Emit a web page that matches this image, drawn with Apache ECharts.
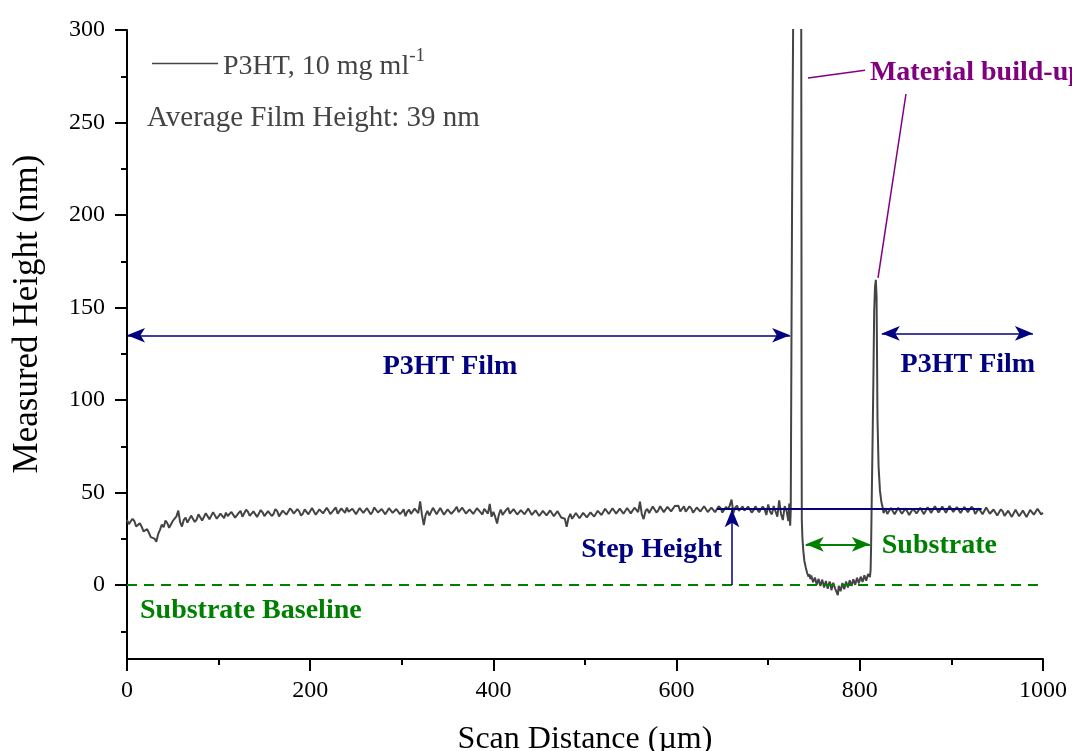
<!DOCTYPE html>
<html lang="en">
<head>
    <meta charset="UTF-8">
    <title>P3HT step height profile</title>
    <script src="https://cdn.jsdelivr.net/npm/echarts@6/dist/echarts.min.js"></script>
    <style>
        html, body { margin: 0; padding: 0; background: #fff; }
        #main { width: 1072px; height: 751px; }
    </style>
</head>
<body>
<div id="main"></div>
<script>
    // film left of the scratch, one reading every 2 um from x = 0
    var film1Start = 0, film1Step = 2;
    var film1Height = [
        35.2, 32.9, 33.8, 35.8, 34.6, 31.6, 32.1, 33.4, 31.5, 29.0, 29.4, 30.2, 28.1, 25.9, 25.6, 25.1, 23.4, 27.5, 29.8, 32.6,
        31.2, 34.8, 33.5, 30.9, 30.8, 34.6, 35.9, 37.1, 40.2, 34.0, 31.6, 35.2, 36.4, 33.7, 34.2, 37.5, 37.8, 34.1, 35.3, 38.2,
        37.6, 34.9, 35.4, 38.8, 38.3, 35.5, 36.2, 39.4, 38.9, 35.8, 36.7, 38.6, 37.4, 36.1, 39.1, 37.3, 36.5, 39.5, 38.6, 36.4,
        37.2, 39.0, 40.1, 36.9, 37.8, 40.7, 39.6, 37.4, 38.1, 39.8, 40.4, 36.8, 37.5, 40.5, 39.3, 37.2, 38.0, 39.9, 40.6, 37.3,
        38.4, 41.0, 39.9, 37.1, 37.6, 40.2, 41.2, 38.0, 38.5, 41.4, 40.3, 38.6, 37.9, 41.0, 39.8, 37.5, 38.6, 40.9, 40.7, 38.2,
        39.1, 41.6, 40.8, 38.0, 38.2, 40.9, 41.5, 38.7, 39.4, 41.7, 40.2, 38.3, 38.7, 40.8, 41.9, 38.6, 39.3, 41.4, 40.5, 39.0,
        41.8, 39.6, 38.9, 41.2, 40.6, 38.3, 39.2, 41.6, 41.3, 39.0, 38.4, 41.5, 40.9, 38.2, 39.5, 41.9, 41.6, 39.2, 38.8, 41.1,
        40.3, 38.2, 39.0, 41.5, 41.2, 39.0, 38.1, 41.1, 40.5, 38.3, 39.4, 40.9, 37.2, 39.6, 40.8, 38.4, 39.1, 41.3, 40.6, 38.9,
        45.2, 38.0, 32.4, 37.9, 40.1, 37.6, 38.6, 41.7, 41.4, 38.2, 39.0, 41.6, 40.7, 38.0, 38.3, 40.9, 41.1, 38.5, 39.6, 40.8,
        42.3, 39.4, 38.5, 41.8, 40.9, 38.6, 37.8, 40.9, 41.6, 38.4, 39.2, 41.5, 42.0, 39.3, 38.1, 41.2, 40.4, 38.6, 43.8, 36.9,
        39.5, 36.8, 33.2, 38.1, 40.8, 37.9, 38.4, 40.6, 41.7, 38.6, 38.9, 41.0, 40.2, 38.1, 37.6, 40.5, 41.3, 38.2, 39.0, 41.3,
        40.6, 37.9, 38.2, 40.4, 39.9, 37.3, 37.5, 40.1, 40.8, 37.6, 38.0, 40.3, 39.4, 37.2, 36.8, 39.9, 39.7, 36.5, 37.1, 35.8,
        31.5, 36.3, 38.4, 35.8, 36.2, 38.9, 39.0, 36.1, 36.9, 39.0, 38.2, 36.6, 37.4, 39.2, 39.1, 37.0, 38.0, 40.1, 39.6, 37.8,
        38.7, 41.2, 40.5, 38.4, 39.2, 41.5, 41.1, 38.6, 38.8, 41.3, 40.6, 38.5, 39.5, 41.6, 41.4, 38.7, 39.1, 41.8, 40.9, 39.4,
        45.0, 38.3, 35.6, 39.9, 41.2, 38.9, 39.8, 42.4, 42.1, 39.2, 40.3, 42.6, 41.7, 39.4, 39.6, 42.2, 42.4, 39.8, 40.5, 42.7,
        41.9, 42.8, 39.7, 40.0, 42.6, 39.6, 40.2, 42.5, 41.4, 39.1, 39.3, 41.9, 42.8, 39.7, 40.6, 42.6, 41.1, 39.4, 39.9, 41.8,
        42.7, 39.4, 40.1, 42.6, 41.5, 39.2, 39.6, 42.3, 40.8, 42.9, 46.2, 38.8, 41.8, 42.9, 40.0, 39.4, 42.5, 40.2, 39.8, 42.4,
        41.6, 39.2, 40.3, 42.5, 42.2, 39.3, 39.7, 42.4, 41.0, 37.8, 43.5, 39.6, 38.2, 42.7, 41.9, 36.9, 45.8, 38.4, 35.1, 42.6,
        40.2
    ];

    // left edge of the scratch with the first build-up wall
    var edgeX = [722, 723, 724, 724.6, 725.3, 726, 726.8, 727.6, 729, 731, 733, 735, 736, 736.3, 736.5,
        736.7, 737.3, 738.3, 739.5, 741, 742.5, 744];
    var edgeHeight = [34.5, 44.0, 32.0, 40, 120, 200, 270, 330, 480, 560, 530, 420, 330, 200, 80,
        35, 26, 18.6, 13, 9.5, 6.5, 4.5];

    // bare substrate at the bottom of the scratch, every 1 um from x = 745
    var substrateStart = 745, substrateStep = 1;
    var substrateHeight = [
        5.8, 3.2, 5.1, 4.1, 1.5, 1.8, 4.0, 3.0, 0.2, 0.9,
        3.3, 2.6, -0.5, 0.4, 2.9, 2.1, -1.4, -0.8, 2.2, 1.5,
        -2.0, -1.2, 1.9, 0.6, -2.8, -2.0, 1.2, 0.3, -1.8, -3.1,
        -4.2, -5.5, -0.4, -1.0, -3.4, -2.6, 1.1, 0.4, -2.3, -1.5,
        1.9, 1.2, -1.3, -0.6, 2.6, 1.8, -0.5, 0.2, 3.1, 2.4,
        0.1, 1.0, 3.9, 3.1, 0.9, 1.9, 4.5, 3.6, 1.6, 2.5,
        5.2, 4.4, 2.3, 3.2, 6.0, 5.1, 4.3
    ];

    // second build-up peak on the right edge
    var peakX = [811.8, 812.3, 813, 814, 814.8, 815.7, 816.6, 817.5, 818.3, 818.8, 819.3, 820.5, 822, 823.5, 824.5];
    var peakHeight = [8, 20, 45, 80, 110, 148, 161, 165, 156, 125, 90, 64, 51, 45, 43];

    // film right of the scratch, every 2 um from x = 826
    var film2Start = 826, film2Step = 2;
    var film2Height = [
        38.9, 41.5, 38.4, 39.2, 41.6, 40.8, 38.2, 38.6, 41.7, 41.2, 38.5, 39.0, 41.4, 40.5, 37.9, 38.3, 41.2, 41.0, 38.7, 39.4,
        41.8, 40.9, 38.3, 38.8, 42.0, 41.6, 39.0, 39.7, 42.6, 42.3, 39.2, 39.5, 42.4, 41.8, 39.1, 40.0, 42.7, 42.4, 39.5, 39.3,
        42.1, 41.5, 38.9, 39.8, 42.2, 42.0, 39.4, 40.1, 42.3, 41.2, 38.4, 38.7, 41.4, 40.6, 38.2, 39.1, 41.9, 41.3, 38.5, 37.9,
        40.8, 40.2, 37.6, 38.3, 40.9, 39.8, 37.4, 36.9, 40.2, 39.5, 36.8, 37.6, 40.7, 40.1, 37.2, 36.8, 40.3, 39.4, 36.7, 37.2,
        40.6, 41.0, 38.0, 38.1, 41.2, 40.3, 38.2, 39.0
    ];

    var xTicks = [0, 200, 400, 600, 800, 1000];
    var yMajorTicks = [0, 50, 100, 150, 200, 250, 300];
    var yMinorTicks = [-25, 25, 75, 125, 175, 225, 275];

    var profile = [];
    film1Height.forEach(function (h, i) { profile.push([film1Start + i * film1Step, h]); });
    edgeX.forEach(function (x, i) { profile.push([x, edgeHeight[i]]); });
    substrateHeight.forEach(function (h, i) { profile.push([substrateStart + i * substrateStep, h]); });
    peakX.forEach(function (x, i) { profile.push([x, peakHeight[i]]); });
    film2Height.forEach(function (h, i) { profile.push([film2Start + i * film2Step, h]); });

    var serif = 'Liberation Serif';
    var navy = '#000080', green = '#008000', purple = '#800080';

    function arrowLine(a, b, color, startArrow, endArrow, width) {
        return [
            {coord: a, symbol: startArrow ? 'arrow' : 'none', symbolSize: [11, 18]},
            {coord: b, symbol: endArrow ? 'arrow' : 'none', symbolSize: [11, 18],
                lineStyle: {color: color, width: width || 1.5, type: 'solid'}}
        ];
    }

    function note(text, coord, color, align) {
        return {
            name: text, coord: coord,
            label: {
                show: true, formatter: '{b}', position: [0, 0], align: align, verticalAlign: 'middle',
                color: color, fontFamily: serif, fontWeight: 'bold', fontSize: 28
            }
        };
    }

    var myChart = echarts.init(document.getElementById('main'));

    var option = {
        animation: false,
        grid: {left: 127, right: 29, top: 30, bottom: 92, outerBoundsMode: 'none'},
        legend: {
            data: ['P3HT'],
            left: 147, top: 42,
            icon: 'rect', itemWidth: 66, itemHeight: 1.6, itemGap: 0,
            formatter: function () { return '{t|P3HT, 10 mg ml}{s|-1}'; },
            textStyle: {
                rich: {
                    t: {fontFamily: serif, fontSize: 28, color: '#444', padding: [6, 0, 0, 0]},
                    s: {fontFamily: serif, fontSize: 19, color: '#444', padding: [0, 0, 14, 0]}
                }
            }
        },
        graphic: [
            {
                type: 'text', left: 147, top: 104,
                style: {text: 'Average Film Height: 39 nm', fontFamily: serif, fontSize: 29, fill: '#444'}
            },
            {
                type: 'text', x: 28, y: 314, rotation: Math.PI / 2,
                style: {
                    text: 'Measured Height (nm)', fontFamily: serif, fontSize: 35, fill: '#000',
                    align: 'center', verticalAlign: 'middle'
                }
            }
        ],
        xAxis: {
            type: 'value', min: 0, max: 1000, interval: 200,
            name: 'Scan Distance (\u00b5m)', nameLocation: 'middle', nameGap: 65,
            nameTextStyle: {fontFamily: serif, fontSize: 32, color: '#000'},
            axisLine: {onZero: false, lineStyle: {color: '#000', width: 2}},
            axisTick: {length: 12, lineStyle: {color: '#000', width: 2}},
            minorTick: {show: true, splitNumber: 2, length: 6, lineStyle: {color: '#000', width: 2}},
            axisLabel: {
                margin: 20, fontFamily: serif, fontSize: 24, color: '#000',
                customValues: xTicks,
                formatter: function (v) { return String(v); }
            },
            splitLine: {show: false}
        },
        yAxis: [
            {
                type: 'value', min: -40, max: 300,
                axisLine: {show: true, onZero: false, lineStyle: {color: '#000', width: 2}},
                axisTick: {show: true, length: 12, customValues: yMajorTicks, lineStyle: {color: '#000', width: 2}},
                axisLabel: {
                    margin: 22, fontFamily: serif, fontSize: 24, color: '#000',
                    customValues: yMajorTicks
                },
                splitLine: {show: false}
            },
            {
                type: 'value', min: -40, max: 300, position: 'left',
                axisLine: {show: false},
                axisTick: {show: true, length: 6, customValues: yMinorTicks, lineStyle: {color: '#000', width: 2}},
                axisLabel: {show: false},
                splitLine: {show: false}
            }
        ],
        series: [
            {
                name: 'P3HT',
                type: 'line',
                data: profile,
                showSymbol: false,
                clip: true,
                color: '#444',
                lineStyle: {color: '#444', width: 2},
                z: 3
            },
            {
                name: 'notes',
                type: 'line',
                data: [],
                z: 4,
                markLine: {
                    silent: true,
                    symbol: ['none', 'none'],
                    label: {show: false},
                    data: [
                        {yAxis: 0, lineStyle: {color: green, width: 1.8, type: [10, 7]}},
                        arrowLine([0, 135], [724, 135], navy, true, true),
                        arrowLine([824, 136], [989, 136], navy, true, true),
                        arrowLine([644, 41], [933, 41], navy, false, false, 2),
                        arrowLine([660.5, 0], [660.5, 41], navy, false, true),
                        arrowLine([741, 22], [811, 22], green, true, true, 2),
                        arrowLine([743.4, 274], [805.7, 278.3], purple, false, false),
                        arrowLine([850.4, 265.4], [819.9, 166], purple, false, false)
                    ]
                },
                markPoint: {
                    silent: true,
                    symbol: 'circle',
                    symbolSize: 0,
                    data: [
                        note('P3HT Film', [352.6, 118], navy, 'center'),
                        note('P3HT Film', [918, 119], navy, 'center'),
                        note('Material build-up', [811, 277], purple, 'left'),
                        note('Step Height', [649.6, 19], navy, 'right'),
                        note('Substrate Baseline', [14.2, -14], green, 'left'),
                        note('Substrate', [824, 21], green, 'left')
                    ]
                }
            }
        ]
    };

    myChart.setOption(option);
</script>
</body>
</html>
